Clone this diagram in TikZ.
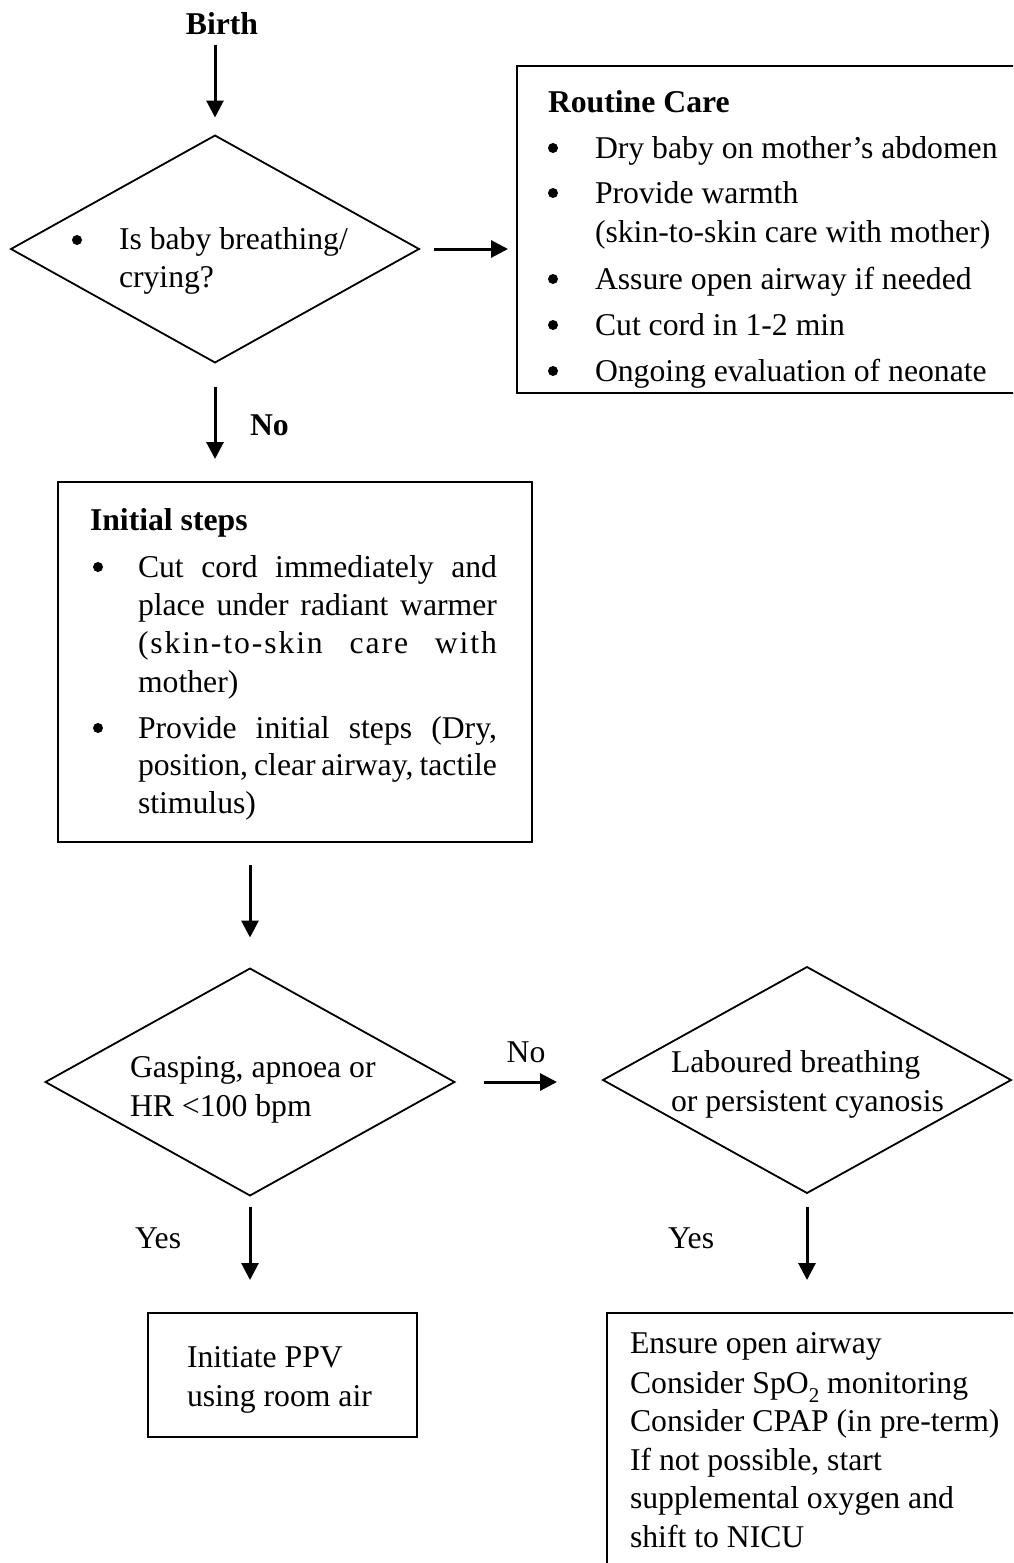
\documentclass[tikz,border=0pt]{standalone}
\usepackage{fontspec}
\setmainfont{Liberation Serif}
\usetikzlibrary{shapes.geometric,arrows.meta}
\newcommand{\lowsub}[1]{\raisebox{-9pt}{\fontsize{21}{21}\selectfont #1}}
\begin{document}
\begin{tikzpicture}[x=1pt,y=-1pt,
  txt/.style={anchor=base west,inner sep=0pt,outer sep=0pt,font=\fontsize{31.7}{38}\selectfont},
  hd/.style={txt,font=\fontsize{31.7}{38}\selectfont\bfseries},
  box/.style={draw,line width=2.5pt,inner sep=0pt,outer sep=0pt,anchor=north west},
  dia/.style={draw,diamond,line width=1.8pt,inner sep=0pt,outer sep=0pt},
  flow/.style={line width=3pt,-{Triangle[length=17pt,width=17pt]}},
  dot/.style={fill,circle,inner sep=0pt,minimum size=10pt}]
\useasboundingbox (0,0) rectangle (1013,1563);
\clip (0,0) rectangle (1013,1563);

% start
\node[hd,anchor=base] (birth) at (222,35) {Birth};

% first decision
\node[dia,minimum width=408pt,minimum height=227pt] (d1) at (215,249) {};
\node[dot] (d1b) at (77,240) {};
\node[txt] (d1t1) at (119,249) {Is baby breathing/};
\node[txt] (d1t2) at (119,287) {crying?};

% routine care
\node[box,minimum width=540pt,minimum height=327pt] (rc) at (517,66) {};
\node[hd] (rch) at (548,112) {Routine Care};
\foreach \yy in {148,193,279,325,371} \node[dot] at (553,\yy) {};
\node[txt] (rc1) at (595,158) {Dry baby on mother’s abdomen};
\node[txt] (rc2) at (595,203) {Provide warmth};
\node[txt] (rc3) at (595,242) {(skin-to-skin care with mother)};
\node[txt] (rc4) at (595,289) {Assure open airway if needed};
\node[txt] (rc5) at (595,335) {Cut cord in 1-2 min};
\node[txt] (rc6) at (595,381) {Ongoing evaluation of neonate};

% initial steps
\node[box,minimum width=474pt,minimum height=360pt] (init) at (58,482) {};
\node[hd] (inh) at (90,530) {Initial steps};
\node[dot] at (98,567) {};
\node[dot] at (98,728) {};
\node[txt] (in1) at (138,577) {\makebox[359pt][s]{Cut cord immediately and}};
\node[txt] (in2) at (138,615) {\makebox[359pt][s]{place under radiant warmer}};
\node[txt] (in3) at (138,653) {\addfontfeature{LetterSpace=6}\makebox[359pt][s]{(skin-to-skin care with}};
\node[txt] (in4) at (138,692) {mother)};
\node[txt] (in5) at (138,738) {\makebox[359pt][s]{Provide initial steps (Dry,}};
\node[txt] (in6) at (138,775) {\makebox[359pt][s]{position, clear airway, tactile}};
\node[txt] (in7) at (138,813) {stimulus)};

% second decision
\node[dia,minimum width=409pt,minimum height=227pt] (d2) at (250,1082) {};
\node[txt] (d2t1) at (130,1077) {Gasping, apnoea or};
\node[txt] (d2t2) at (130,1116) {HR <100 bpm};

% third decision
\node[dia,minimum width=408pt,minimum height=226pt] (d3) at (807,1080) {};
\node[txt] (d3t1) at (671,1072) {Laboured breathing};
\node[txt] (d3t2) at (671,1111) {or persistent cyanosis};

% outcomes
\node[box,minimum width=269pt,minimum height=124pt] (ppv) at (148,1313) {};
\node[txt] (pp1) at (187,1367) {Initiate PPV};
\node[txt] (pp2) at (187,1406) {using room air};

\node[box,minimum width=450pt,minimum height=300pt] (fin) at (607,1313) {};
\node[txt] (f1) at (630,1353) {Ensure open airway};
\node[txt] (f2) at (630,1393) {Consider SpO\lowsub{2} monitoring};
\node[txt] (f3) at (630,1431) {Consider CPAP (in pre-term)};
\node[txt] (f4) at (630,1470) {If not possible, start};
\node[txt] (f5) at (630,1508) {supplemental oxygen and};
\node[txt] (f6) at (630,1547) {shift to NICU};

% connectors
\coordinate (b0) at (215,45);
\draw[flow,shorten >=18pt] (b0) -- (d1.north);
\draw[flow,shorten <=15pt,shorten >=9pt] (d1.east) -- (d1.east -| rc.west);
\draw[flow,shorten <=24pt,shorten >=23pt] (d1.south) -- (d1.south |- init.north);
\node[hd] (lno) at (250,435) {No};
\draw[flow,shorten <=23pt,shorten >=31pt] (d2.north |- init.south) -- (d2.north);
\draw[flow,shorten <=29pt,shorten >=46pt] (d2.east) -- (d2.east -| d3.west);
\node[txt,anchor=base] (lno2) at (526,1062) {No};
\draw[flow,shorten <=11pt,shorten >=33pt] (d2.south) -- (d2.south |- ppv.north);
\draw[flow,shorten <=14pt,shorten >=33pt] (d3.south) -- (d3.south |- fin.north);
\node[txt] (ly1) at (135,1248) {Yes};
\node[txt] (ly2) at (668,1248) {Yes};
\end{tikzpicture}
\end{document}
